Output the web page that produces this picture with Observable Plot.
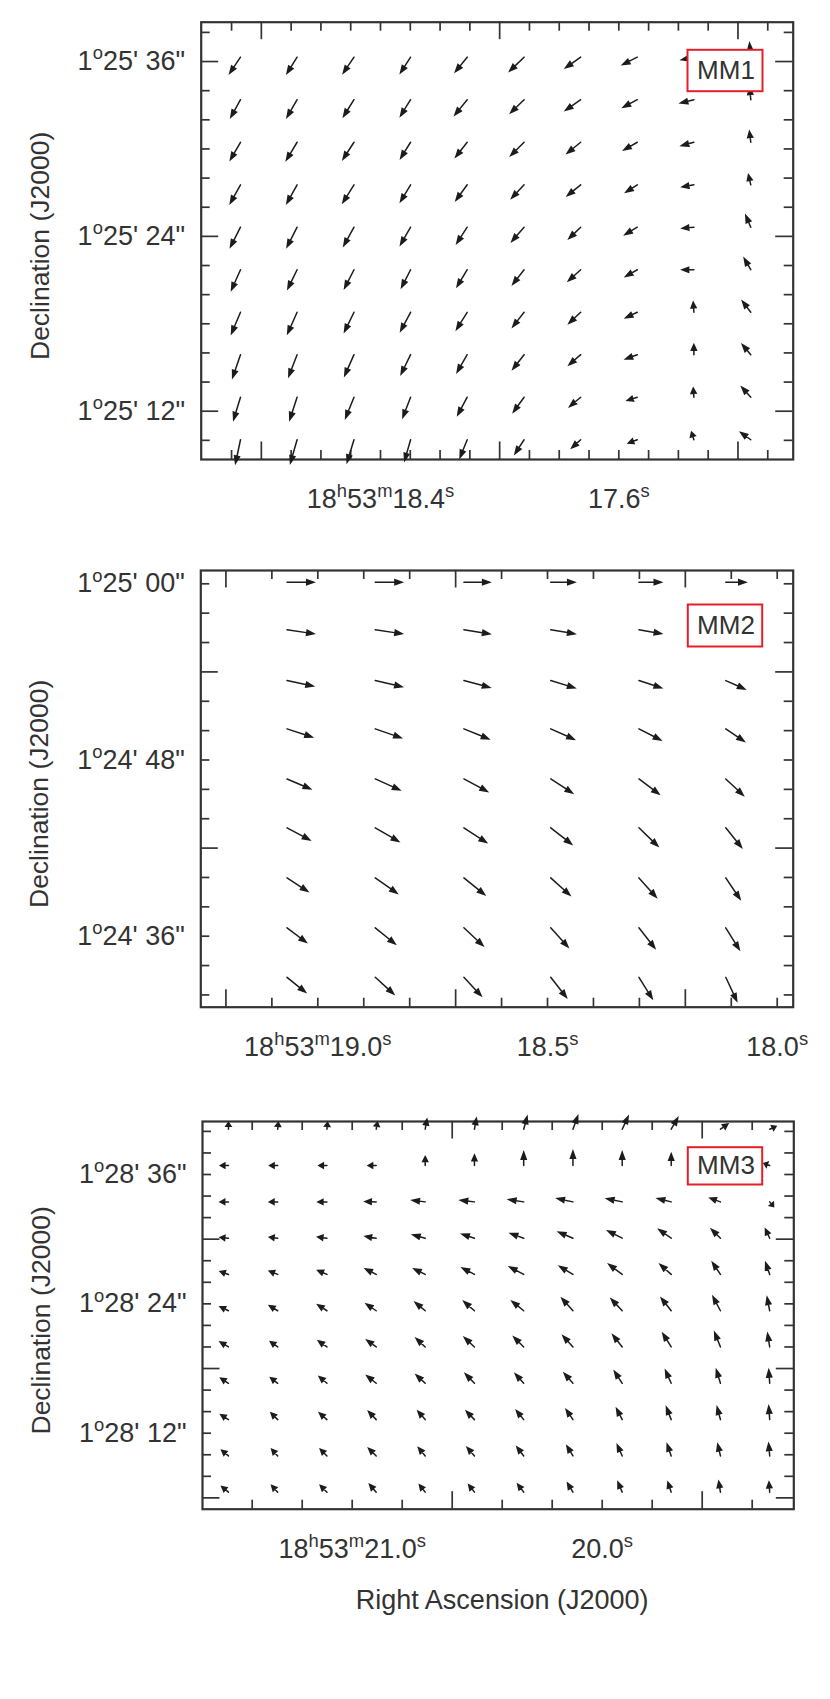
<!DOCTYPE html>
<html><head><meta charset="utf-8">
<script src="https://cdn.jsdelivr.net/npm/d3@7"></script>
<script src="https://cdn.jsdelivr.net/npm/@observablehq/plot@0.6"></script>
<style>
body{margin:0;background:#fff;}
#chart svg{display:block;}
</style></head><body><div id="chart"></div>
<script>
// ---------------- MM1 ----------------
const mm1Ra  = [18.870, 18.680, 18.489, 18.299, 18.109, 17.918, 17.728, 17.538, 17.348, 17.157];
const mm1Dec = [36.30, 33.38, 30.46, 27.54, 24.63, 21.71, 18.79, 15.88, 12.96, 10.04];
const mm1Angle = [
  [214, 212, 214, 213, 219, 226, 235, 243, 258, 355],
  [209, 210, 212, 212, 219, 226, 235, 242, 256, 355],
  [210, 211, 213, 212, 218, 225, 231, 240, 255, 353],
  [209, 209, 212, 211, 216, 223, 231, 237, 260, 347],
  [207, 207, 209, 210, 213, 221, 226, 239, 265, 337],
  [204, 206, 207, 207, 211, 218, 228, 240, 270, 330],
  [203, 204, 206, 208, 212, 218, 227, 245, 356, 323],
  [199, 201, 204, 206, 210, 218, 229, 250,   0, 320],
  [197, 198, 202, 201, 208, 216, 230, 252, 356, 318],
  [192, 196, 197, 196, 202, 213, 228, 250, 343, 306]
];
const mm1Mag = [
  [19.2, 18.9, 19.0, 18.4, 18.6, 20.0, 18.4, 16.4, 12.6, 14.0],
  [19.8, 20.0, 19.6, 18.9, 19.5, 18.6, 18.4, 15.8, 13.7, 12.0],
  [20.0, 20.6, 20.0, 18.6, 18.5, 18.8, 17.3, 15.4, 12.8, 11.0],
  [20.9, 20.9, 20.8, 19.4, 19.0, 18.2, 17.1, 13.5, 11.8, 10.3],
  [22.0, 22.0, 20.9, 20.0, 19.0, 18.6, 16.3, 14.3, 11.7, 12.7],
  [22.0, 21.0, 20.6, 19.8, 19.5, 18.3, 16.5, 13.4, 11.7, 13.0],
  [22.9, 23.0, 21.5, 21.0, 20.0, 18.3, 16.0, 12.8, 10.0, 13.8],
  [24.0, 23.0, 22.7, 21.5, 20.0, 18.2, 15.4, 12.4, 10.0, 13.0],
  [23.3, 23.5, 22.3, 21.4, 20.0, 18.1, 14.4, 10.5,  9.0, 13.5],
  [23.9, 24.0, 23.3, 21.5, 19.0, 16.6, 12.0,  9.6,  8.0, 12.4]
];
const mm1XMinor = [18.9, 18.7, 18.6, 18.5, 18.4, 18.3, 18.2, 18.1, 17.9, 17.8, 17.7, 17.6, 17.5, 17.4, 17.3, 17.1];
const mm1XMajor = [18.8, 18.0, 17.2];
const mm1YMinor = [38, 34, 32, 30, 28, 26, 22, 20, 18, 16, 14, 10];
const mm1YMajor = [36, 24, 12];
const mm1XLabelVals = [18.4, 17.6];
const mm1XLabels = ["18^h53^m18.4^s", "17.6^s"];
const mm1YLabelVals = [36, 24, 12];
const mm1YLabels = ["1^o25' 36\"", "1^o25' 24\"", "1^o25' 12\""];

// ---------------- MM2 ----------------
const mm2Ra  = [19.067, 18.875, 18.682, 18.493, 18.301, 18.112];
const mm2Dec = [60.11, 56.87, 53.41, 50.12, 46.71, 43.38, 39.97, 36.57, 33.20];
const mm2Angle = [
  [90, 90, 90, 90, 90, 90],
  [98.5, 98.5, 99, 99.5, 100, 101],
  [102, 103, 105, 107, 108, 114],
  [108, 109, 112, 114, 117, 124],
  [113, 114, 118, 123, 127, 133],
  [118, 120, 123, 128, 134, 141],
  [123, 125, 129, 132, 138, 146],
  [127, 129, 133, 138, 142, 148],
  [129, 132, 137, 142, 148, 155]
];
const mm2Mag = [
  [26.7, 26.7, 25.7, 24.0, 22.3, 20.0],
  [27.0, 27.0, 26.0, 24.3, 22.7, 21.0],
  [26.6, 27.3, 26.5, 25.0, 23.5, 20.7],
  [26.3, 27.2, 26.6, 25.5, 24.3, 22.1],
  [25.4, 26.7, 26.4, 25.8, 25.0, 23.8],
  [25.6, 26.9, 26.7, 26.3, 26.2, 24.9],
  [24.6, 26.5, 26.5, 25.7, 25.7, 25.4],
  [24.0, 25.6, 26.0, 25.7, 25.7, 25.4],
  [23.7, 24.8, 25.2, 25.4, 24.9, 25.8]
];
const mm2XMinor = [19.1, 19.0, 18.9, 18.8, 18.6, 18.5, 18.4, 18.3, 18.1, 18.0];
const mm2XMajor = [19.2, 18.7, 18.2];
const mm2YMinor = [60, 58, 56, 52, 50, 48, 46, 44, 40, 38, 36, 34, 32];
const mm2YMajor = [54, 42];
const mm2XLabelVals = [19.0, 18.5, 18.0];
const mm2XLabels = ["18^h53^m19.0^s", "18.5^s", "18.0^s"];
const mm2YLabelVals = [60, 48, 36];
const mm2YLabels = ["1^o25' 00\"", "1^o24' 48\"", "1^o24' 36\""];

// ---------------- MM3 ----------------
const mm3Ra  = [21.495, 21.298, 21.101, 20.904, 20.708, 20.511, 20.314, 20.117, 19.920, 19.724, 19.527, 19.330];
const mm3Dec = [40.20, 36.83, 33.46, 30.09, 26.73, 23.36, 20.00, 16.63, 13.26, 9.89, 6.53];
const mm3Angle = [
  [0, 5, 5, 10, 10, 10, 15, 20, 25, 30, 55, 65],
  [270, 270, 270, 270, 0, 0, 0, 0, 0, 0, 0, 290],
  [270, 270, 270, 272, 277, 277, 279, 282, 282, 284, 290, 140],
  [275, 277, 277, 280, 285, 288, 290, 293, 297, 305, 315, 335],
  [290, 292, 293, 297, 296, 298, 298, 301, 307, 312, 326, 341],
  [296, 301, 303, 304, 310, 311, 309, 318, 317, 322, 332, 349],
  [301, 306, 305, 306, 313, 313, 315, 318, 322, 328, 338, 351],
  [303, 308, 311, 309, 313, 316, 318, 319, 327, 336, 343, 356],
  [303, 315, 311, 317, 319, 316, 321, 326, 333, 339, 345, 356],
  [310, 318, 315, 315, 321, 319, 323, 329, 336, 341, 347, 355],
  [310, 318, 315, 319, 322, 322, 323, 329, 337, 342, 351, 356]
];
const mm3Mag = [
  [6.7, 6.7, 6.7, 7.0, 10.0, 11.0, 13.0, 14.0, 14.0, 13.0, 9.0, 7.0],
  [8.0, 8.0, 8.0, 8.0, 9.0, 10.5, 13.3, 14.3, 13.3, 11.7, 10.0, 6.0],
  [8.3, 8.3, 9.0, 11.0, 13.0, 14.0, 15.0, 16.0, 15.7, 14.0, 11.0, 6.0],
  [8.3, 8.3, 9.3, 11.0, 12.7, 13.0, 14.0, 15.5, 16.0, 15.0, 12.7, 10.0],
  [8.7, 9.0, 10.0, 12.0, 12.4, 13.7, 15.8, 15.5, 16.7, 14.9, 14.2, 12.3],
  [9.2, 9.7, 11.0, 12.0, 13.0, 14.0, 15.0, 16.5, 16.0, 16.0, 15.8, 13.6],
  [9.7, 9.0, 10.5, 11.5, 12.3, 13.7, 14.0, 14.9, 15.2, 15.7, 15.4, 13.5],
  [9.2, 9.0, 10.2, 12.0, 12.3, 13.0, 12.5, 13.2, 14.2, 13.9, 13.9, 13.4],
  [9.2, 9.4, 10.0, 11.3, 11.1, 11.6, 11.6, 12.0, 12.4, 13.2, 12.8, 13.4],
  [8.8, 9.0, 9.4, 10.8, 10.7, 11.1, 11.2, 11.7, 12.1, 12.3, 12.0, 12.4],
  [8.8, 9.0, 9.4, 10.2, 9.3, 9.3, 10.0, 10.5, 10.9, 10.5, 10.8, 10.0]
];
const mm3XMinor = [21.4, 21.2, 21.0, 20.8, 20.4, 20.2, 20.0, 19.8, 19.4];
const mm3XMajor = [20.6, 19.6];
const mm3YMinor = [40, 38, 36, 34, 32, 28, 26, 24, 22, 20, 16, 14, 12, 10, 8];
const mm3YMajor = [30, 18, 6];
const mm3XLabelVals = [21.0, 20.0];
const mm3XLabels = ["18^h53^m21.0^s", "20.0^s"];
const mm3YLabelVals = [36, 24, 12];
const mm3YLabels = ["1^o28' 36\"", "1^o28' 24\"", "1^o28' 12\""];

const yTitle = "Declination (J2000)";
const xTitle = "Right Ascension (J2000)";

// ---------------- drawing ----------------
const INK = "#333";
const ARROW = "#1c1c1c";
const RED = "#e3202a";
const FONT = '"Liberation Sans", Arial, Helvetica, sans-serif';

const arrowShape = {
  draw(ctx, l) {
    const hl = Math.min(7, l * 0.55), hw = 2.5;
    ctx.moveTo(0, 0);
    ctx.lineTo(0, -(l - hl * 0.6));
    ctx.moveTo(-hw, hl - l);
    ctx.lineTo(0, -l);
    ctx.lineTo(hw, hl - l);
    ctx.closePath();
  }
};

function vectorMark(data) {
  const opts = {x: "ra", y: "dec", rotate: "angle", length: "mag", anchor: "start",
    stroke: ARROW, fill: ARROW, strokeWidth: 1.5, strokeLinejoin: "miter"};
  try { return Plot.vector(data, {...opts, shape: arrowShape}); }
  catch (e) { return Plot.vector(data, {...opts, fill: "none"}); }
}

function panel(c) {
  const width = 830;
  const fw = width - c.ml - c.mr;
  const fh = c.height - c.mt - c.mb;
  const vec = [];
  c.dec.forEach((d, i) => c.ra.forEach((r, j) => vec.push({ra: r, dec: d, angle: c.angle[i][j], mag: c.mag[i][j]})));
  const ts = {stroke: INK, strokeWidth: 1.7};
  const S = 9, L = 17.5;
  const marks = [
    Plot.ruleX(c.xMinor, {x: d => d, insetTop: fh - S, ...ts}),
    Plot.ruleX(c.xMinor, {x: d => d, insetBottom: fh - S, ...ts}),
    Plot.ruleX(c.xMajor, {x: d => d, insetTop: fh - L, ...ts}),
    Plot.ruleX(c.xMajor, {x: d => d, insetBottom: fh - L, ...ts}),
    Plot.ruleY(c.yMinor, {y: d => d, insetRight: fw - S, ...ts}),
    Plot.ruleY(c.yMinor, {y: d => d, insetLeft: fw - S, ...ts}),
    Plot.ruleY(c.yMajor, {y: d => d, insetRight: fw - L, ...ts}),
    Plot.ruleY(c.yMajor, {y: d => d, insetLeft: fw - L, ...ts}),
    Plot.frame({stroke: INK, strokeWidth: 2.2}),
    vectorMark(vec),
    Plot.frame({insetLeft: fw - c.box.r - c.box.w, insetRight: c.box.r, insetTop: c.box.t,
      insetBottom: fh - c.box.t - c.box.h, fill: "white", stroke: RED, strokeWidth: 2}),
    Plot.text([c.name], {text: d => d, frameAnchor: "top-right", dx: -(c.box.r + c.box.w / 2) + 1,
      dy: c.box.t + c.box.h / 2, textAnchor: "middle", lineAnchor: "middle", fontSize: 26, fill: INK}),
    Plot.text(c.xLabelVals, {x: d => d, text: (d, i) => c.xLabels[i], frameAnchor: "bottom",
      dy: 40, textAnchor: "middle", lineAnchor: "middle", fontSize: 27, fill: INK}),
    Plot.text(c.yLabelVals, {y: d => d, text: (d, i) => c.yLabels[i], frameAnchor: "left",
      dx: -16, textAnchor: "end", lineAnchor: "middle", fontSize: 27, fill: INK}),
    Plot.text([yTitle], {text: d => d, frameAnchor: "left", rotate: -90, dx: -161, dy: 5,
      textAnchor: "middle", lineAnchor: "middle", fontSize: 26.5, fill: INK})
  ];
  if (c.xTitle) marks.push(Plot.text([c.xTitle], {text: d => d, frameAnchor: "bottom", dx: 4, dy: 91,
    textAnchor: "middle", lineAnchor: "middle", fontSize: 27, fill: INK}));
  return Plot.plot({
    width, height: c.height,
    marginLeft: c.ml, marginRight: c.mr, marginTop: c.mt, marginBottom: c.mb,
    x: {domain: c.xDomain, axis: null},
    y: {domain: c.yDomain, axis: null},
    length: {domain: [0, 30], range: [0, 30]},
    style: {fontFamily: FONT, color: INK, background: "white", overflow: "visible"},
    marks
  });
}

function supify(svg) {
  svg.querySelectorAll("text").forEach(t => {
    const s = t.textContent;
    if (!s.includes("^")) return;
    const fs = parseFloat(getComputedStyle(t).fontSize) || 27;
    const parts = s.split(/\^(.)/);
    while (t.firstChild) t.removeChild(t.firstChild);
    let up = false;
    parts.forEach((p, i) => {
      if (p === "") return;
      const sp = document.createElementNS("http://www.w3.org/2000/svg", "tspan");
      sp.textContent = p;
      if (i % 2 === 1) {
        sp.setAttribute("font-size", (fs * 0.68).toFixed(1) + "px");
        if (!up) { sp.setAttribute("dy", (-fs * 0.4).toFixed(1)); up = true; }
      } else if (up) {
        sp.setAttribute("dy", (fs * 0.4).toFixed(1)); up = false;
      }
      t.appendChild(sp);
    });
  });
}

const panels = [
  panel({height: 530, mt: 21.7, mb: 71, ml: 200.7, mr: 37.3,
    xDomain: [19.0019, 17.0146], yDomain: [8.685, 38.70],
    ra: mm1Ra, dec: mm1Dec, angle: mm1Angle, mag: mm1Mag,
    xMinor: mm1XMinor, xMajor: mm1XMajor, yMinor: mm1YMinor, yMajor: mm1YMajor,
    xLabelVals: mm1XLabelVals, xLabels: mm1XLabels, yLabelVals: mm1YLabelVals, yLabels: mm1YLabels,
    name: "MM1", box: {r: 30.7, w: 75, t: 27.6, h: 41.4}}),
  panel({height: 535, mt: 40, mb: 58.3, ml: 200.3, mr: 37.3,
    xDomain: [19.2547, 17.9652], yDomain: [31.164, 60.906],
    ra: mm2Ra, dec: mm2Dec, angle: mm2Angle, mag: mm2Mag,
    xMinor: mm2XMinor, xMajor: mm2XMajor, yMinor: mm2YMinor, yMajor: mm2YMajor,
    xLabelVals: mm2XLabelVals, xLabels: mm2XLabels, yLabelVals: mm2YLabelVals, yLabels: mm2YLabels,
    name: "MM2", box: {r: 31, w: 74.4, t: 34, h: 42}}),
  panel({height: 634, mt: 56, mb: 190.3, ml: 202, mr: 36.7,
    xDomain: [21.5988, 19.2336], yDomain: [4.949, 40.917],
    ra: mm3Ra, dec: mm3Dec, angle: mm3Angle, mag: mm3Mag,
    xMinor: mm3XMinor, xMajor: mm3XMajor, yMinor: mm3YMinor, yMajor: mm3YMajor,
    xLabelVals: mm3XLabelVals, xLabels: mm3XLabels, yLabelVals: mm3YLabelVals, yLabels: mm3YLabels,
    name: "MM3", box: {r: 31.6, w: 74.4, t: 25.7, h: 37.3}, xTitle})
];
const container = document.getElementById("chart");
panels.forEach(p => { container.appendChild(p); supify(p); });
</script></body></html>
